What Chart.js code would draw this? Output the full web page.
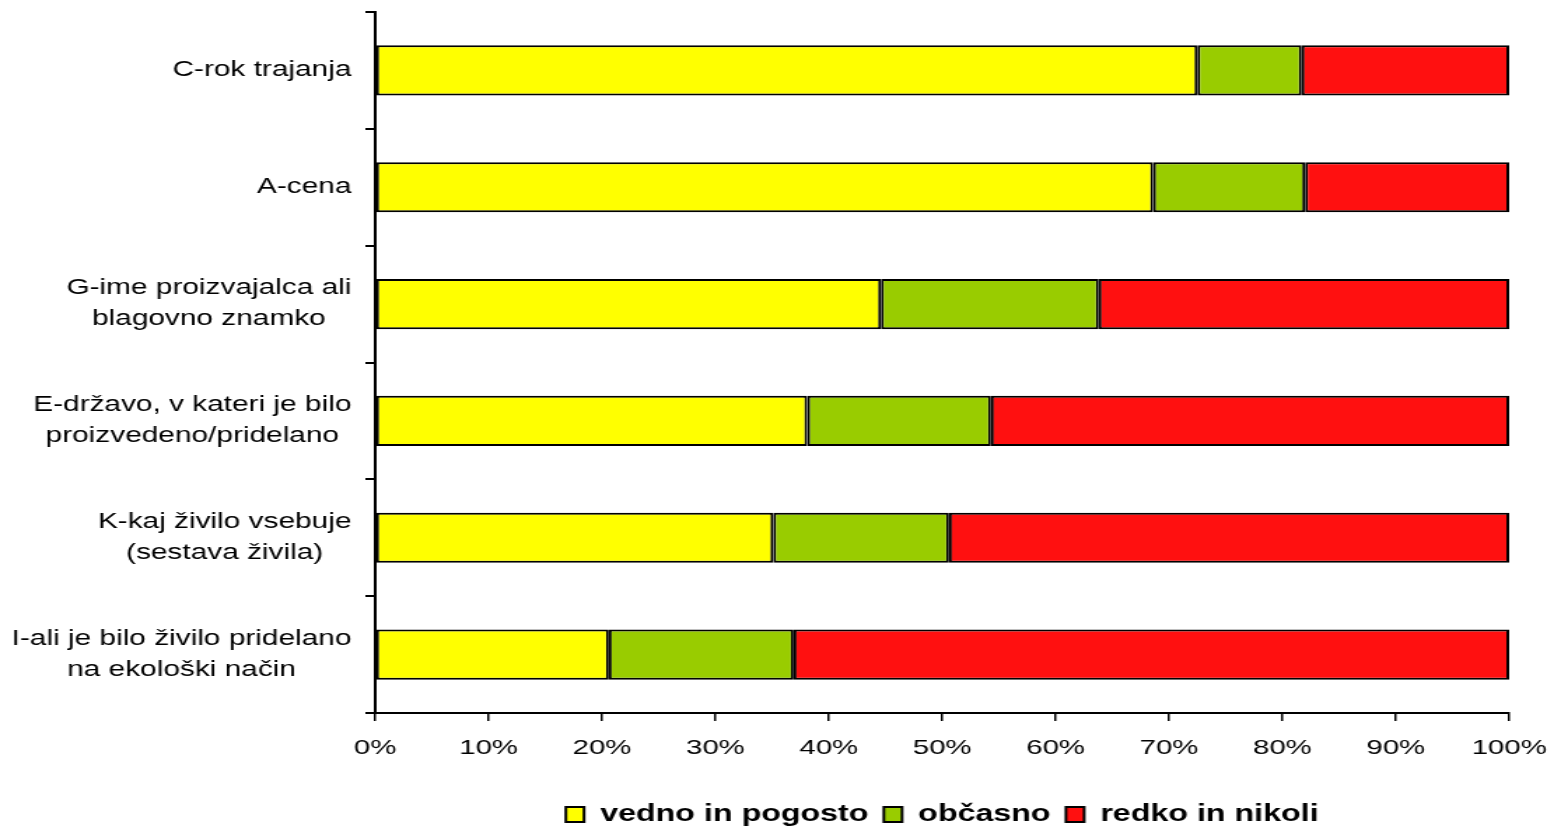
<!DOCTYPE html>
<html>

<head>
  <meta charset="utf-8">
  <title>Graf</title>
  <style>
    body { margin: 0; background: #fff; overflow: hidden; }
    #okvir { width: 1552px; height: 828px; overflow: hidden; }
    /* slika je v izvirniku raztegnjena vodoravno */
    #graf { transform: scaleX(1.4); transform-origin: 0 0; }
  </style>
</head>

<body>
  <div id="okvir"><canvas id="graf" width="1109" height="828"></canvas></div>

  <script src="https://cdn.jsdelivr.net/npm/chart.js"></script>
  <script>
    const kategorije = [
      ['C-rok trajanja'],
      ['A-cena'],
      ['G-ime proizvajalca ali', 'blagovno znamko'],
      ['E-državo, v kateri je bilo', 'proizvedeno/pridelano'],
      ['K-kaj živilo vsebuje', '(sestava živila)'],
      ['I-ali je bilo živilo pridelano', 'na ekološki način']
    ];
    const vednoInPogosto = [72.5, 68.6, 44.6, 38.1, 35.1, 20.6];
    const obcasno = [9.2, 13.4, 19.2, 16.2, 15.5, 16.3];
    const redkoInNikoli = [18.3, 18.0, 36.2, 45.7, 49.4, 63.1];
    const xOznake = [0, 10, 20, 30, 40, 50, 60, 70, 80, 90, 100];

    const pisava = '"Liberation Sans", Arial, sans-serif';
    Chart.defaults.font.family = pisava;
    Chart.defaults.color = '#000';

    // oznake kategorij: vrstice centrirane med sabo, desni rob ob osi
    const oznakeY = {
      id: 'oznakeY',
      afterDraw(chart) {
        const ctx = chart.ctx;
        const y = chart.scales.y;
        ctx.save();
        ctx.font = '21.3px ' + pisava;
        ctx.fillStyle = '#000';
        ctx.textAlign = 'center';
        ctx.textBaseline = 'middle';
        kategorije.forEach((vrstice, i) => {
          const sredina = y.getPixelForTick(i);
          const sirina = Math.max(...vrstice.map(v => ctx.measureText(v).width));
          const cx = 251 - sirina / 2;
          vrstice.forEach((v, j) => {
            ctx.fillText(v, cx, sredina + (j - (vrstice.length - 1) / 2) * 31);
          });
        });
        ctx.restore();
      }
    };

    const skupno = {
      borderColor: '#000',
      borderWidth: 2,
      borderSkipped: false,
      barPercentage: 0.43,
      categoryPercentage: 1
    };

    new Chart(document.getElementById('graf'), {
      type: 'bar',
      data: {
        labels: kategorije,
        datasets: [
          { label: 'vedno in pogosto', data: vednoInPogosto, backgroundColor: '#FFFF00', ...skupno },
          { label: 'občasno', data: obcasno, backgroundColor: '#99CC00', ...skupno },
          { label: 'redko in nikoli', data: redkoInNikoli, backgroundColor: '#FF1010', ...skupno }
        ]
      },
      options: {
        indexAxis: 'y',
        responsive: false,
        animation: false,
        layout: { padding: { top: 12, right: 31, left: 0, bottom: -8 } },
        scales: {
          x: {
            stacked: true,
            min: 0,
            max: 100,
            afterBuildTicks(scale) {
              scale.ticks = xOznake.map(v => ({ value: v }));
            },
            ticks: {
              callback: v => v + '%',
              font: { size: 21 },
              padding: 15,
              maxRotation: 0
            },
            grid: { drawOnChartArea: false, tickLength: 8, color: '#000', lineWidth: 1.5 },
            border: { color: '#000', width: 2 },
            afterFit(scale) {
              scale.height = 79;
              scale.paddingLeft = 0;
              scale.paddingRight = 0;
            }
          },
          y: {
            stacked: true,
            ticks: { display: false },
            grid: { drawOnChartArea: false, tickLength: 7, color: '#000', lineWidth: 2, offset: true },
            border: { color: '#000', width: 2 },
            afterFit(scale) { scale.width = 268; }
          }
        },
        plugins: {
          tooltip: { enabled: false },
          legend: {
            position: 'bottom',
            fullSize: false,
            labels: {
              boxWidth: 13,
              boxHeight: 15,
              padding: 11,
              font: { size: 23, weight: 'bold' },
              color: '#000'
            }
          }
        }
      },
      plugins: [oznakeY]
    });
  </script>
</body>
</html>
